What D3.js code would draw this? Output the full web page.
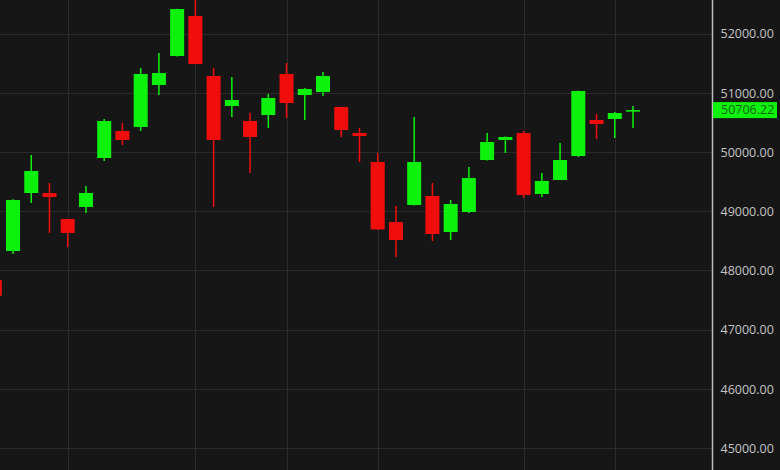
<!DOCTYPE html>
<html>
<head>
<meta charset="utf-8">
<script src="https://cdn.jsdelivr.net/npm/d3@7"></script>
<style>
  html, body { margin: 0; padding: 0; background: #161616; }
  svg { display: block; }
</style>
</head>
<body>
<svg id="chart" width="780" height="470"></svg>
<script>
// ---- Data ----
const categories = d3.range(36).map(i => "D" + i);
const opens  = [47837, 48326, 49306, 49306, 48867, 49070, 49897, 50353, 50421, 51130,
                51620, 52296, 51282, 50776, 50522, 50623, 51316, 50961, 51012, 50759,
                50319, 49830, 48816, 49103, 49255, 48647, 48985, 49863, 50201, 50319,
                49289, 49526, 49931, 50539, 50556, 50680];
const highs  = [47900, 49200, 49948, 49475, 48870, 49424, 50556, 50488, 51417, 51671,
                52420, 52620, 51417, 51265, 50657, 50978, 51502, 51080, 51350, 50765,
                50404, 49982, 49087, 50590, 49475, 49188, 49745, 50319, 50260, 50353,
                49644, 50151, 51035, 50640, 50674, 50775];
const lows   = [47500, 48276, 49137, 48631, 48394, 48968, 49847, 50117, 50353, 50961,
                51610, 51480, 49070, 50590, 49644, 50404, 50573, 50539, 50944, 50252,
                49830, 48680, 48225, 49095, 48495, 48512, 48968, 49855, 49982, 49222,
                49238, 49520, 49914, 50218, 50235, 50404];
const closes = [47570, 49188, 49678, 49238, 48631, 49306, 50522, 50201, 51316, 51333,
                52414, 51485, 50201, 50877, 50252, 50911, 50826, 51063, 51282, 50370,
                50269, 48690, 48512, 49830, 48614, 49120, 49559, 50167, 50252, 49272,
                49509, 49863, 51029, 50471, 50657, 50706.22];
const gridCategories = ["D4", "D11", "D16", "D21", "D29", "D34"];
const priceTicks = [45000, 46000, 47000, 48000, 49000, 50000, 51000, 52000];
const lastPrice = 50706.22;

// ---- Layout ----
const W = 780, H = 470;
const plotRight = 712;
const bg = "#161616", gridColor = "#2b2b2b";
const upColor = "#0df20d", downColor = "#f20d0d";

const svg = d3.select("#chart");
svg.append("rect").attr("width", W).attr("height", H).attr("fill", bg);

const x = d3.scalePoint().domain(categories).range([-5.2, 633]);
const y = d3.scaleLinear().domain([44627, 52566]).range([H, 0]);

// grid
const grid = svg.append("g");
grid.selectAll("line.h").data(priceTicks).join("line")
  .attr("x1", 0).attr("x2", plotRight)
  .attr("y1", d => Math.round(y(d)) + 0.5).attr("y2", d => Math.round(y(d)) + 0.5)
  .attr("stroke", gridColor).attr("stroke-width", 1);
grid.selectAll("line.v").data(gridCategories).join("line")
  .attr("x1", d => Math.round(x(d)) + 0.5).attr("x2", d => Math.round(x(d)) + 0.5)
  .attr("y1", 0).attr("y2", H)
  .attr("stroke", gridColor).attr("stroke-width", 1);

// candles
const data = categories.map((c, i) => ({c, o: opens[i], h: highs[i], l: lows[i], cl: closes[i]}));
const bodyW = 14;
const g = svg.append("g");
const candle = g.selectAll("g.candle").data(data).join("g");
candle.append("line")
  .attr("x1", d => x(d.c)).attr("x2", d => x(d.c))
  .attr("y1", d => y(d.h)).attr("y2", d => y(d.l))
  .attr("stroke", d => d.cl >= d.o ? upColor : downColor)
  .attr("stroke-width", 1.5);
candle.append("rect")
  .attr("x", d => x(d.c) - bodyW / 2)
  .attr("width", bodyW)
  .attr("y", d => y(Math.max(d.o, d.cl)))
  .attr("height", d => Math.max(1.5, Math.abs(y(d.o) - y(d.cl))))
  .attr("fill", d => d.cl >= d.o ? upColor : downColor);

// right axis
const axis = d3.axisRight(y).tickValues(priceTicks).tickFormat(d3.format(".2f")).tickSize(0).tickPadding(8);
const ax = svg.append("g").attr("transform", `translate(${plotRight + 0.5},0)`).call(axis);
ax.select(".domain").remove();
ax.selectAll("text")
  .attr("fill", "#c4c4c4")
  .attr("font-family", "'Open Sans', sans-serif")
  .attr("font-size", 12.5)
  .attr("dy", "0.35em");
svg.append("line")
  .attr("x1", plotRight + 0.5).attr("x2", plotRight + 0.5)
  .attr("y1", 0).attr("y2", H)
  .attr("stroke", "#bdbdbd").attr("stroke-width", 1.5);

// last price tag
const ly = y(lastPrice);
svg.append("rect")
  .attr("x", plotRight + 1).attr("y", ly - 8)
  .attr("width", 64).attr("height", 16)
  .attr("fill", "#0df20d");
svg.append("text")
  .attr("x", plotRight + 9).attr("y", ly)
  .attr("dy", "0.35em")
  .attr("fill", "#156015")
  .attr("font-family", "'Open Sans', sans-serif")
  .attr("font-size", 12.5)
  .text(d3.format(".2f")(lastPrice));
</script>
</body>
</html>
